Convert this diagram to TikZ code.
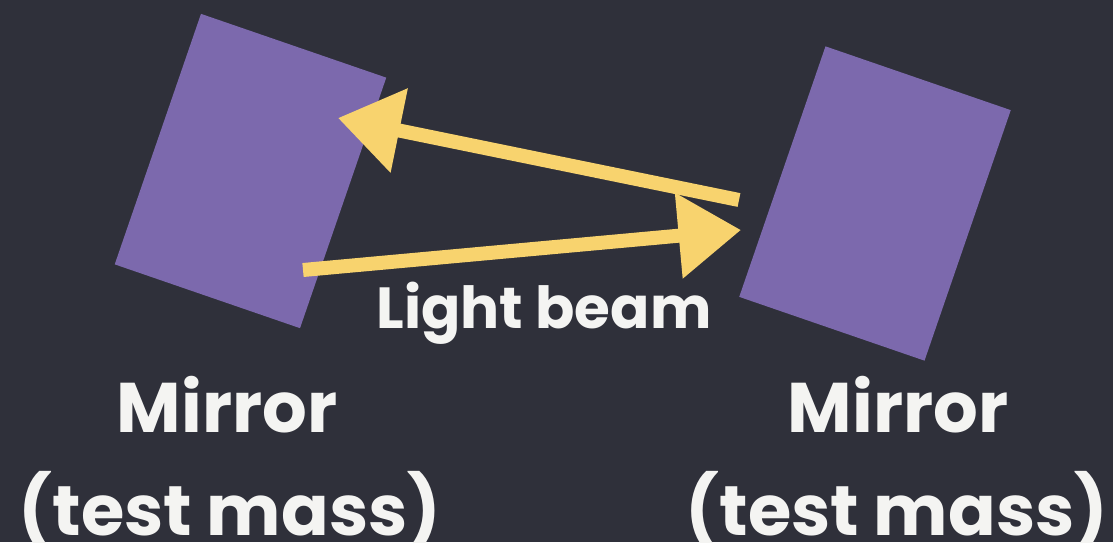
\documentclass[tikz,border=0pt]{standalone}
\usepackage{fontspec}
\setmainfont{Poppins}
\usepackage{xcolor}
\usetikzlibrary{arrows.meta,positioning,calc}

\definecolor{board}{HTML}{2F303A}
\definecolor{mirrorpurple}{HTML}{7C69AD}
\definecolor{chalkyellow}{HTML}{F8D36E}
\definecolor{chalkwhite}{HTML}{F4F4F2}

\begin{document}
\begin{tikzpicture}[x=0.02cm, y=-0.02cm,
    mirror/.style={fill=mirrorpurple, inner sep=0pt, minimum width=3.92cm, minimum height=5.3cm, rotate=-19},
    beam/.style={draw=chalkyellow, line width=0.28cm, -{Triangle[length=1.25cm, width=1.65cm]}},
    chalk/.style={text=chalkwhite, anchor=base, inner sep=0pt}]
    \useasboundingbox (0,0) rectangle (1113,542);
    \fill[board] (0,0) rectangle (1113,542);
    % mirrors
    \node[mirror] (M1) at (250.5,171) {};
    \node[mirror] (M2) at (875,203.5) {};
    % beam ends
    \coordinate (outStart) at (303,270);
    \coordinate (outTip) at (741,230);
    \coordinate (backStart) at (739,200);
    \coordinate (backTip) at (338,118);
    \draw[beam] (outStart) -- (outTip);
    \draw[beam] (backStart) -- (backTip);
    % labels
    \node[chalk, font=\fontsize{33}{40}\selectfont\bfseries] (beamlabel) at (544,328) {Light beam};
    \node[chalk, font=\fontsize{40}{48}\selectfont\bfseries] (label1) at (227,432) {Mirror};
    \node[chalk, font=\fontsize{40}{48}\selectfont\bfseries] (sub1) at (230,535) {(test mass)};
    \node[chalk, font=\fontsize{40}{48}\selectfont\bfseries] (label2) at (898,432) {Mirror};
    \node[chalk, font=\fontsize{40}{48}\selectfont\bfseries] (sub2) at (897,535) {(test mass)};
\end{tikzpicture}
\end{document}
